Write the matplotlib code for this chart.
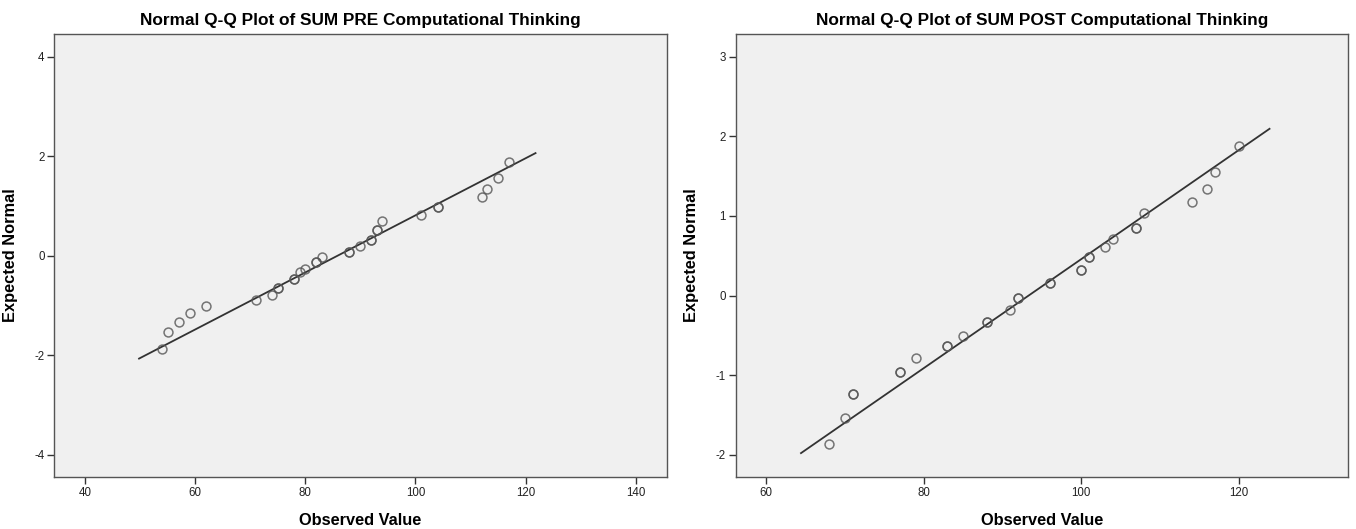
import matplotlib
matplotlib.use("Agg")
import matplotlib.pyplot as plt

plt.rcParams['font.family'] = ['Liberation Sans', 'DejaVu Sans']
plt.rcParams['axes.unicode_minus'] = False

# PRE scores (tied values appear twice, they overlap as darker circles)
pre_observed = [54, 55, 57, 59, 62, 71, 74, 75, 75, 78, 78, 79, 80, 82, 82,
                83, 88, 88, 90, 92, 92, 93, 93, 94, 101, 104, 104, 112, 113,
                115, 117]
pre_expected = [-1.87, -1.54, -1.33, -1.16, -1.02, -0.90, -0.79, -0.65, -0.65,
                -0.47, -0.47, -0.33, -0.26, -0.135, -0.135, -0.03, 0.08, 0.08,
                0.20, 0.32, 0.32, 0.52, 0.52, 0.70, 0.81, 0.98, 0.98, 1.18,
                1.34, 1.56, 1.89]
pre_line_x = [49.8, 121.8]
pre_line_y = [-2.07, 2.06]

# POST scores
post_observed = [68, 70, 71, 71, 77, 77, 79, 83, 83, 85, 88, 88, 91, 92, 92,
                 96, 96, 100, 100, 101, 101, 103, 104, 107, 107, 108, 114,
                 116, 117, 120]
post_expected = [-1.865, -1.535, -1.24, -1.24, -0.955, -0.955, -0.786, -0.638,
                 -0.638, -0.507, -0.338, -0.338, -0.18, -0.025, -0.025, 0.157,
                 0.157, 0.318, 0.318, 0.479, 0.479, 0.61, 0.707, 0.851, 0.851,
                 1.037, 1.173, 1.342, 1.553, 1.883]
post_line_x = [64.4, 123.9]
post_line_y = [-1.98, 2.095]

panels = [
    dict(title="Normal Q-Q Plot of SUM PRE Computational Thinking",
         x=pre_observed, y=pre_expected, lx=pre_line_x, ly=pre_line_y,
         xlim=(34.4, 145.6), ylim=(-4.45, 4.46),
         xticks=[40, 60, 80, 100, 120, 140], yticks=[-4, -2, 0, 2, 4],
         pos=[0.040, 0.0983, 0.4516, 0.838]),
    dict(title="Normal Q-Q Plot of SUM POST Computational Thinking",
         x=post_observed, y=post_expected, lx=post_line_x, ly=post_line_y,
         xlim=(56.1, 133.9), ylim=(-2.28, 3.29),
         xticks=[60, 80, 100, 120], yticks=[-2, -1, 0, 1, 2, 3],
         pos=[0.5425, 0.0983, 0.4518, 0.838]),
]

fig = plt.figure(figsize=(13.56, 5.29), dpi=100)

for p in panels:
    ax = fig.add_axes(p["pos"])
    ax.set_facecolor("#f0f0f0")
    ax.plot(p["lx"], p["ly"], color="#333333", linewidth=1.3, zorder=2)
    ax.plot(p["x"], p["y"], linestyle="none", marker="o", markersize=6.4,
            markerfacecolor="none", markeredgecolor="#555555",
            markeredgewidth=1.1, alpha=0.8, zorder=3)
    ax.set_xlim(*p["xlim"])
    ax.set_ylim(*p["ylim"])
    ax.set_xticks(p["xticks"])
    ax.set_yticks(p["yticks"])
    ax.tick_params(direction="out", length=5, width=1, color="#333333",
                   labelsize=8.3, labelcolor="#222222", pad=2)
    for spine in ax.spines.values():
        spine.set_edgecolor("#555555")
        spine.set_linewidth(1.0)
    ax.set_title(p["title"], fontsize=12.4, fontweight="bold", pad=6)
    ax.set_xlabel("Observed Value", fontsize=11.8, fontweight="bold", labelpad=10)
    ax.set_ylabel("Expected Normal", fontsize=11.8, fontweight="bold")
    ax.yaxis.set_label_coords(-0.059, 0.5)

plt.savefig("out.png", dpi=100)
plt.close()
